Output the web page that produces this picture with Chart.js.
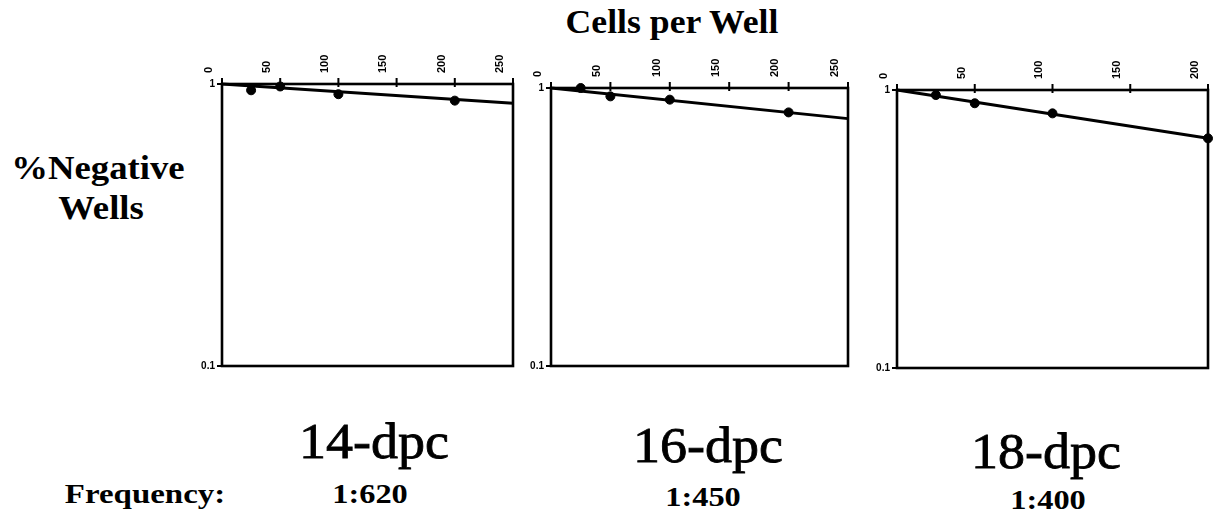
<!DOCTYPE html>
<html>
<head>
<meta charset="utf-8">
<script src="https://cdn.jsdelivr.net/npm/chart.js@4.4.0/dist/chart.umd.min.js"></script>
<style>
  html,body{margin:0;padding:0;background:#fff;}
  body{width:1215px;height:514px;position:relative;overflow:hidden;font-family:"Liberation Serif","DejaVu Serif",serif;color:#000;}
  canvas{position:absolute;}
  .t{position:absolute;white-space:nowrap;line-height:1;}
  .b{font-weight:bold;}
</style>
</head>
<body>
<canvas id="c1" width="331" height="332" style="left:190px;top:40px"></canvas>
<canvas id="c2" width="337" height="328" style="left:519px;top:44px"></canvas>
<canvas id="c3" width="349" height="328" style="left:865px;top:46px"></canvas>

<div class="t b" style="left:672px;top:22px;font-size:34px;transform:translate(-50%,-50%) scaleX(1.05);">Cells per Well</div>
<div class="t b" style="left:98px;top:168px;font-size:34px;transform:translate(-50%,-50%) scaleX(1.08);">%Negative</div>
<div class="t b" style="left:101px;top:208px;font-size:34px;transform:translate(-50%,-50%) scaleX(1.08);">Wells</div>

<div class="t" id="p1" style="left:374px;top:441px;font-size:50px;transform:translate(-50%,-50%) scaleX(1.08);-webkit-text-stroke:0.8px #000;"></div>
<div class="t" id="p2" style="left:708px;top:445px;font-size:50px;transform:translate(-50%,-50%) scaleX(1.08);-webkit-text-stroke:0.8px #000;"></div>
<div class="t" id="p3" style="left:1046px;top:451px;font-size:50px;transform:translate(-50%,-50%) scaleX(1.08);-webkit-text-stroke:0.8px #000;"></div>

<div class="t b" style="left:145px;top:494px;font-size:27px;transform:translate(-50%,-50%) scaleX(1.22);">Frequency:</div>
<div class="t b" id="f1" style="left:370px;top:494px;font-size:27px;transform:translate(-50%,-50%) scaleX(1.2);"></div>
<div class="t b" id="f2" style="left:703px;top:497px;font-size:27px;transform:translate(-50%,-50%) scaleX(1.2);"></div>
<div class="t b" id="f3" style="left:1048px;top:500px;font-size:27px;transform:translate(-50%,-50%) scaleX(1.2);"></div>

<script>
// ---- data ----
const panelLabels = ["14-dpc", "16-dpc", "18-dpc"];
const frequencies = ["1:620", "1:450", "1:400"];
const yTicks = [0.1, 1];

const cells14 = [25, 50, 100, 200];
const neg14 = [0.95, 0.98, 0.92, 0.873];
const fitX14 = [0, 250];
const fitY14 = [1, 0.855];
const xMax14 = 250;

const cells16 = [25, 50, 100, 200];
const neg16 = [1.0, 0.933, 0.908, 0.817];
const fitX16 = [0, 250];
const fitY16 = [1, 0.776];
const xMax16 = 250;

const cells18 = [25, 50, 100, 200];
const neg18 = [0.959, 0.896, 0.824, 0.67];
const fitX18 = [0, 200];
const fitY18 = [1, 0.67];
const xMax18 = 200;

// ---- text ----
["p1","p2","p3"].forEach((id,i)=>document.getElementById(id).textContent = panelLabels[i]);
["f1","f2","f3"].forEach((id,i)=>document.getElementById(id).textContent = frequencies[i]);

// frame + tick marks crossing the axes, placed by the chart's own scales
const frame = {
  id: 'frame',
  afterDatasetsDraw(chart){
    const a = chart.chartArea, ctx = chart.ctx;
    const xs = chart.scales.x, ys = chart.scales.y;
    ctx.save();
    ctx.strokeStyle = '#000';
    ctx.lineWidth = 2.6;
    ctx.strokeRect(a.left, a.top, a.right - a.left, a.bottom - a.top);
    ctx.lineWidth = 2;
    ctx.beginPath();
    xs.ticks.forEach(t => {
      const px = xs.getPixelForValue(t.value);
      ctx.moveTo(px, a.top - 6); ctx.lineTo(px, a.top + 3);
    });
    ys.ticks.forEach(t => {
      const py = ys.getPixelForValue(t.value);
      ctx.moveTo(a.left - 5, py); ctx.lineTo(a.left + 7, py);
    });
    ctx.stroke();
    ctx.restore();
  }
};

function pts(xs, ys){ return xs.map((x,i)=>({x:x, y:ys[i]})); }

function makeChart(id, cx, cy, fx, fy, xMax, padRight){
  new Chart(document.getElementById(id), {
    type: 'scatter',
    data: {
      datasets: [
        { data: pts(fx, fy), showLine: true, pointRadius: 0, borderColor: '#000', borderWidth: 3, clip: false },
        { data: pts(cx, cy), pointRadius: 4.5, pointStyle: 'circle', backgroundColor: '#000', borderColor: '#000', clip: false }
      ]
    },
    options: {
      responsive: false,
      animation: false,
      devicePixelRatio: 1,
      layout: { padding: { left: 0, right: padRight, top: 0, bottom: 6 } },
      plugins: { legend: { display: false }, tooltip: { enabled: false } },
      scales: {
        x: {
          type: 'linear', position: 'top', min: 0, max: xMax,
          ticks: { stepSize: 50, minRotation: 90, maxRotation: 90, color: '#000', padding: 11,
                   font: { family: 'Liberation Sans', size: 11, weight: 'bold' } },
          grid: { display: false, drawTicks: false },
          border: { display: false },
          afterFit(s){ s.height = 44; s.paddingLeft = 0; s.paddingRight = 0; }
        },
        y: {
          type: 'logarithmic', min: 0.1, max: 1,
          afterBuildTicks(s){ s.ticks = yTicks.map(v=>({value:v})); },
          ticks: { color: '#000', padding: 7, font: { family: 'Liberation Sans', size: 10, weight: 'bold' },
                   callback: v => String(v) },
          grid: { display: false, drawTicks: false },
          border: { display: false },
          afterFit(s){ s.width = 32; s.paddingTop = 0; s.paddingBottom = 0; }
        }
      }
    },
    plugins: [frame]
  });
}

makeChart('c1', cells14, neg14, fitX14, fitY14, xMax14, 8);
makeChart('c2', cells16, neg16, fitX16, fitY16, xMax16, 8);
makeChart('c3', cells18, neg18, fitX18, fitY18, xMax18, 6);
</script>
</body>
</html>
